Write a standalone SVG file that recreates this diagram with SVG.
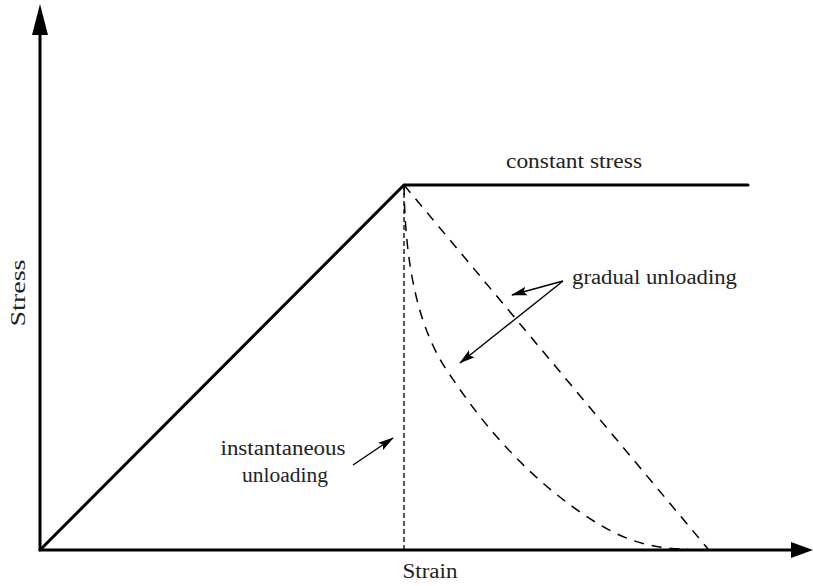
<svg xmlns="http://www.w3.org/2000/svg" width="813" height="586" viewBox="0 0 813 586">
  <style>
    .axis { stroke: #000; stroke-width: 3; fill: none; }
    .solid { stroke: #000; stroke-width: 3; fill: none; stroke-linecap: round; }
    .dash { stroke: #000; stroke-width: 1.5; fill: none; stroke-dasharray: 10 8; }
    .fine { stroke: #000; stroke-width: 1.3; fill: none; stroke-dasharray: 5 3; }
    .pointer { stroke: #000; stroke-width: 1.4; fill: none; marker-end: url(#tip); }
    .label { font-family: "Liberation Serif", "DejaVu Serif", serif; font-size: 20px; fill: #222; }
  </style>
  <defs>
    <marker id="tip" viewBox="0 0 16 10" refX="15" refY="5" markerWidth="16" markerHeight="10" markerUnits="userSpaceOnUse" orient="auto">
      <path d="M0,0.5 L16,5 L0,9.5 L3,5 Z" fill="#000"/>
    </marker>
  </defs>
  <rect width="813" height="586" fill="#fff"/>

  <!-- axes -->
  <g id="axes">
    <line class="axis" x1="40" y1="551" x2="40" y2="32"/>
    <polygon points="40,4 32,35 48,35" fill="#000"/>
    <line class="axis" x1="39" y1="550" x2="793" y2="550"/>
    <polygon points="813,550 791,542 791,558" fill="#000"/>
  </g>

  <!-- loading, hold and unloading paths -->
  <g id="connectors">
    <polyline class="solid" points="40,550 404,185 748,185"/>
    <line class="fine" x1="404" y1="185" x2="404" y2="550"/>
    <line class="dash" x1="404" y1="185" x2="708" y2="549"/>
    <path class="dash" d="M404,185 C405,265 418,330 450,375 C480,420 520,470 580,512 C620,540 650,549 688,549"/>
    <line class="pointer" x1="563" y1="281" x2="512" y2="295"/>
    <line class="pointer" x1="563" y1="281" x2="460" y2="363"/>
    <line class="pointer" x1="353" y1="465" x2="393" y2="438"/>
  </g>

  <!-- labels -->
  <g id="label-constant">
    <text class="label" x="574" y="168" text-anchor="middle" textLength="136" lengthAdjust="spacingAndGlyphs">constant stress</text>
  </g>
  <g id="label-gradual">
    <text class="label" x="572" y="284" textLength="165" lengthAdjust="spacingAndGlyphs">gradual unloading</text>
  </g>
  <g id="label-instant">
    <text class="label" x="283" y="455" text-anchor="middle" textLength="125" lengthAdjust="spacingAndGlyphs">instantaneous</text>
    <text class="label" x="285" y="482" text-anchor="middle" textLength="86" lengthAdjust="spacingAndGlyphs">unloading</text>
  </g>
  <g id="label-strain">
    <text class="label" x="430" y="578" text-anchor="middle" textLength="55" lengthAdjust="spacingAndGlyphs">Strain</text>
  </g>
  <g id="label-stress">
    <text class="label" transform="translate(25,293) rotate(-90)" text-anchor="middle" textLength="67" lengthAdjust="spacingAndGlyphs">Stress</text>
  </g>
</svg>
